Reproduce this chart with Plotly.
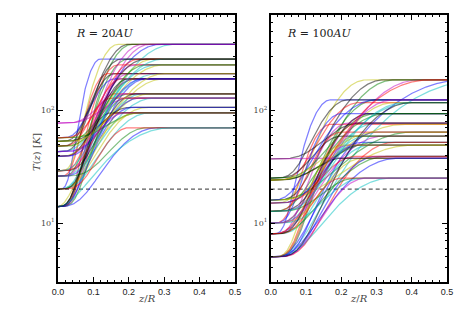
import numpy as np
import plotly.graph_objects as go

# ---------------- data ----------------
panel_titles = ["<i>R</i> = 20<i>AU</i>", "<i>R</i> = 100<i>AU</i>"]
T_threshold = 20.0
x_ticks = [0.0, 0.1, 0.2, 0.3, 0.4, 0.5]
y_ticks = [10, 100]
y_ticktext = ["10<sup>1</sup>", "10<sup>2</sup>"]

# R = 20 AU: midplane T, atmosphere T, height where plateau starts, exponent
Tmid_20 = [20, 14, 26, 14, 20, 29, 43, 14, 26, 14, 20, 39, 48, 53,
           57, 14, 29, 43, 14, 20, 48, 26, 53, 14, 20, 39, 57, 29,
           43, 14, 48, 26, 77, 20, 53, 14, 57, 29, 20, 43, 14, 39,
           14, 26, 20, 14, 77, 39, 20, 39, 48, 57, 29, 26, 53, 14]
Tatm_20 = [285, 385, 211, 385, 385, 385, 385, 385, 285, 253, 253, 253, 285, 285,
           190, 190, 190, 211, 211, 190, 211, 190, 140, 140, 140, 140, 140, 140,
           128, 128, 128, 128, 128, 106, 106, 106, 95, 95, 95, 95, 95, 95,
           70, 70, 70, 70, 190, 253, 190, 190, 253, 285, 285, 385, 211, 285]
zq_20 = [0.12, 0.21, 0.14, 0.33, 0.26, 0.17, 0.20, 0.29, 0.20, 0.17, 0.28, 0.22, 0.27, 0.18,
         0.16, 0.22, 0.18, 0.28, 0.20, 0.30, 0.16, 0.25, 0.20, 0.16, 0.24, 0.19, 0.26, 0.22,
         0.23, 0.19, 0.15, 0.27, 0.20, 0.25, 0.20, 0.21, 0.23, 0.17, 0.26, 0.19, 0.23, 0.15,
         0.28, 0.25, 0.20, 0.32, 0.22, 0.30, 0.20, 0.24, 0.25, 0.23, 0.30, 0.24, 0.30, 0.25]
delta_20 = [2, 2, 2, 1.5, 2, 2, 2, 1.5, 2, 2, 1.5, 2, 2, 2,
            2, 1.5, 2, 1.5, 2, 1.5, 2, 2, 2, 2, 1.5, 2, 2, 2,
            2, 2, 2, 1.5, 2, 1.5, 2, 1.5, 2, 2, 1.5, 2, 1, 2,
            1.5, 2, 2, 1, 2, 1.5, 2, 2, 2, 2, 1.5, 2, 2, 1.5]

# R = 100 AU
Tmid_100 = [8, 5, 10, 5, 12.7, 15, 16, 5, 10, 24, 8, 5, 16, 25,
            10, 12.7, 5, 15, 8, 24, 37, 5, 16, 12.7, 10, 8, 5, 25,
            15, 24, 5, 8, 10, 16, 12.7, 5, 8, 15, 5, 37, 10, 24,
            5, 12.7, 8, 10, 5, 5, 8, 16, 25, 8, 12.7, 10, 24, 5]
Tatm_100 = [124, 186, 75, 186, 186, 186, 186, 186, 124, 117, 117, 93.5, 117, 124,
            93.5, 93.5, 77, 77, 77, 75, 77, 64, 64, 64, 59, 59, 59, 59,
            52, 52, 52, 49, 49, 49, 49, 39, 39, 39, 25, 38, 37.5, 37.5,
            37.5, 25, 25, 25, 25, 49, 93.5, 124, 93.5, 186, 117, 124, 64, 117]
zq_100 = [0.17, 0.35, 0.17, 0.60, 0.42, 0.27, 0.32, 0.55, 0.30, 0.25, 0.40, 0.28, 0.35, 0.22,
          0.20, 0.33, 0.25, 0.30, 0.22, 0.38, 0.25, 0.30, 0.40, 0.20, 0.27, 0.32, 0.24, 0.20,
          0.26, 0.30, 0.35, 0.28, 0.22, 0.40, 0.25, 0.30, 0.33, 0.24, 0.34, 0.30, 0.26, 0.20,
          0.36, 0.24, 0.20, 0.26, 0.27, 0.20, 0.28, 0.30, 0.30, 0.45, 0.38, 0.35, 0.30, 0.40]
delta_100 = [2, 2, 2, 1.5, 2, 2, 2, 1.5, 2, 2, 1.5, 2, 2, 2,
             2, 1.5, 2, 2, 2, 1.5, 2, 2, 1.5, 2, 2, 1.5, 2, 2,
             2, 1.5, 2, 2, 2, 1.5, 2, 2, 1.5, 2, 1.5, 2, 2, 2,
             1.5, 2, 2, 2, 2, 2, 2, 1.5, 2, 1.5, 2, 2, 1.5, 2]

# ---------------- figure ----------------
colors = ["rgba(0,0,255,0.5)", "rgba(0,128,0,0.5)", "rgba(255,0,0,0.5)",
          "rgba(0,191,191,0.5)", "rgba(191,0,191,0.5)", "rgba(191,191,0,0.5)",
          "rgba(0,0,0,0.5)"]

z = np.linspace(0.0, 0.5, 400)


def profile(tm, ta, zq, d):
    s = np.sin(np.pi * np.minimum(z, zq) / (2.0 * zq)) ** (2 * d)
    return tm + (ta - tm) * s


fig = go.Figure()
panels = [(Tmid_20, Tatm_20, zq_20, delta_20, "x", "y"),
          (Tmid_100, Tatm_100, zq_100, delta_100, "x2", "y2")]
for tm_l, ta_l, zq_l, d_l, xa, ya in panels:
    fig.add_trace(go.Scatter(x=[0, 0.5], y=[T_threshold, T_threshold], mode="lines",
                             line=dict(color="rgba(90,90,90,1)", width=1.3, dash="4px,3px"),
                             xaxis=xa, yaxis=ya, showlegend=False, hoverinfo="skip"))
    for i, (tm, ta, zq, d) in enumerate(zip(tm_l, ta_l, zq_l, d_l)):
        fig.add_trace(go.Scatter(x=z, y=profile(tm, ta, zq, d), mode="lines",
                                 line=dict(color=colors[i % 7], width=1.25),
                                 xaxis=xa, yaxis=ya, showlegend=False, hoverinfo="skip"))

W, H = 471, 314
ML, MR, MT, MB = 58, 24, 15, 32
PW, PH = W - ML - MR, H - MT - MB
xdoms = [[0.0, (235.0 - ML) / PW], [(270.7 - ML) / PW, 1.0]]


def px_x(x):
    return (x - ML) / PW


def px_y(y):
    return (H - MB - y) / PH


yminor = [3, 4, 5, 6, 7, 8, 9, 20, 30, 40, 50, 60, 70, 80, 90, 200, 300, 400, 500, 600, 700]

axis_common = dict(showgrid=False, zeroline=False, showline=True, linecolor="black",
                   linewidth=1.5, mirror="allticks", ticks="inside", tickcolor="black",
                   tickwidth=1, ticklen=5, automargin=False)

xa_common = dict(axis_common, range=[0, 0.5], tickvals=x_ticks,
                 ticktext=["%.1f" % v for v in x_ticks],
                 tickfont=dict(family="Liberation Sans", size=9, color="#222"),
                 minor=dict(ticks="inside", dtick=0.02, tick0=0, ticklen=2.5,
                            tickcolor="black", showgrid=False))
ya_common = dict(axis_common, type="log", range=[np.log10(3), np.log10(700)],
                 tickvals=y_ticks, ticktext=y_ticktext,
                 tickfont=dict(family="DejaVu Serif", size=8, color="#444"),
                 minor=dict(ticks="inside", tickvals=yminor, ticklen=2.5,
                            tickcolor="black", showgrid=False))

title_font = dict(family="DejaVu Serif", size=10, color="#444")
fig.update_layout(
    width=W, height=H, margin=dict(l=ML, r=MR, t=MT, b=MB, autoexpand=False),
    paper_bgcolor="white", plot_bgcolor="white",
    xaxis=dict(xa_common, domain=xdoms[0], anchor="y"),
    xaxis2=dict(xa_common, domain=xdoms[1], anchor="y2"),
    yaxis=dict(ya_common, anchor="x"),
    yaxis2=dict(ya_common, anchor="x2"),
    annotations=[
        dict(text=panel_titles[0], xref="x domain", yref="y domain", x=0.09, y=0.93,
             xanchor="left", yanchor="middle", showarrow=False,
             font=dict(family="DejaVu Serif", size=11, color="#222")),
        dict(text=panel_titles[1], xref="x2 domain", yref="y2 domain", x=0.08, y=0.93,
             xanchor="left", yanchor="middle", showarrow=False,
             font=dict(family="DejaVu Serif", size=11, color="#222")),
        dict(text="<i>z</i>/<i>R</i>", xref="x domain", yref="paper", x=0.5,
             y=px_y(298.0), xanchor="center", yanchor="middle", showarrow=False,
             font=title_font),
        dict(text="<i>z</i>/<i>R</i>", xref="x2 domain", yref="paper", x=0.5,
             y=px_y(298.0), xanchor="center", yanchor="middle", showarrow=False,
             font=title_font),
        dict(text="<i>T</i>(<i>z</i>) [<i>K</i>]", xref="paper", yref="paper",
             x=px_x(37.0), y=px_y(152.0), xanchor="center", yanchor="middle",
             textangle=-90, showarrow=False, font=title_font),
    ],
)

fig.write_html("out.html", config={"displayModeBar": False},
               post_script="document.body.style.margin='0px';")
